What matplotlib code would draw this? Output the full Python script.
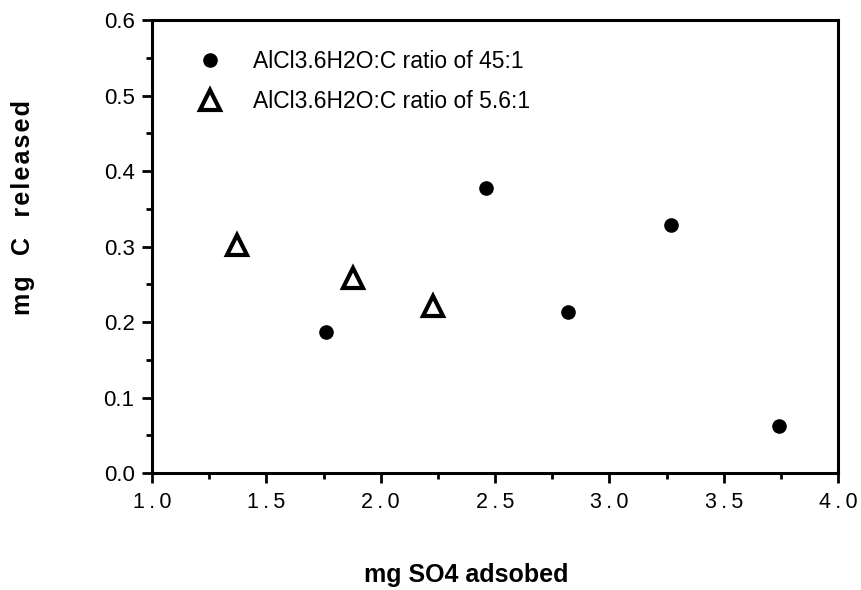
import matplotlib
matplotlib.use("Agg")
import matplotlib.pyplot as plt
from matplotlib.ticker import MultipleLocator

plt.rcParams['font.family'] = ['Liberation Sans', 'DejaVu Sans']

# mg SO4 adsorbed vs mg C released
x_45 = [1.76, 2.46, 2.82, 3.27, 3.74]
y_45 = [0.187, 0.378, 0.214, 0.328, 0.062]
x_56 = [1.37, 1.88, 2.23]
y_56 = [0.302, 0.258, 0.221]

label_45 = "AlCl3.6H2O:C ratio of 45:1"
label_56 = "AlCl3.6H2O:C ratio of 5.6:1"

xticks = [1.0, 1.5, 2.0, 2.5, 3.0, 3.5, 4.0]
xtick_labels = ["1.0", "1.5", "2.0", "2.5", "3.0", "3.5", "4.0"]
yticks = [0.0, 0.1, 0.2, 0.3, 0.4, 0.5, 0.6]
ytick_labels = ["0.0", "0.1", "0.2", "0.3", "0.4", "0.5", "0.6"]


def spaced(text, gap="\u2009"):
    """Widen the tracking of a label by putting a narrow space between characters."""
    return gap.join(text)


fig = plt.figure(figsize=(8.61, 5.90), dpi=100)
ax = fig.add_axes([0.1765, 0.198, 0.797, 0.768])

ax.plot(x_45, y_45, linestyle='none', marker='o', markersize=9.5,
        color='black', label=label_45)
ax.plot(x_56, y_56, linestyle='none', marker='^', markersize=15,
        markerfacecolor='white', markeredgecolor='black', markeredgewidth=3,
        label=label_56)

ax.set_xlim(1.0, 4.0)
ax.set_ylim(0.0, 0.6)
ax.set_xticks(xticks)
ax.set_xticklabels([spaced(t) for t in xtick_labels], fontsize=15.5)
ax.set_yticks(yticks)
ax.set_yticklabels(ytick_labels, fontsize=16)
ax.xaxis.set_minor_locator(MultipleLocator(0.25))
ax.yaxis.set_minor_locator(MultipleLocator(0.05))

for s in ax.spines.values():
    s.set_linewidth(2.2)
ax.tick_params(which='major', direction='out', length=7.5, width=2,
               pad=5, top=False, right=False)
ax.tick_params(which='minor', direction='out', length=4, width=2,
               top=False, right=False)
ax.tick_params(axis='x', which='major', pad=6)

ax.set_xlabel("mg SO4 adsobed", fontsize=18, fontweight='bold')
ax.set_ylabel(spaced("mg  C  released", "\u200a"), fontsize=18,
              fontweight='bold')
ax.xaxis.set_label_coords(0.458, -0.199)
ax.yaxis.set_label_coords(-0.171, 0.587)

ax.legend(loc='upper left', bbox_to_anchor=(0.0517, 0.955), frameon=False,
          fontsize=16.5, handletextpad=1.25, labelspacing=0.78,
          borderaxespad=0, handlelength=1.2)

fig.savefig("out.png", dpi=100, facecolor='white')
